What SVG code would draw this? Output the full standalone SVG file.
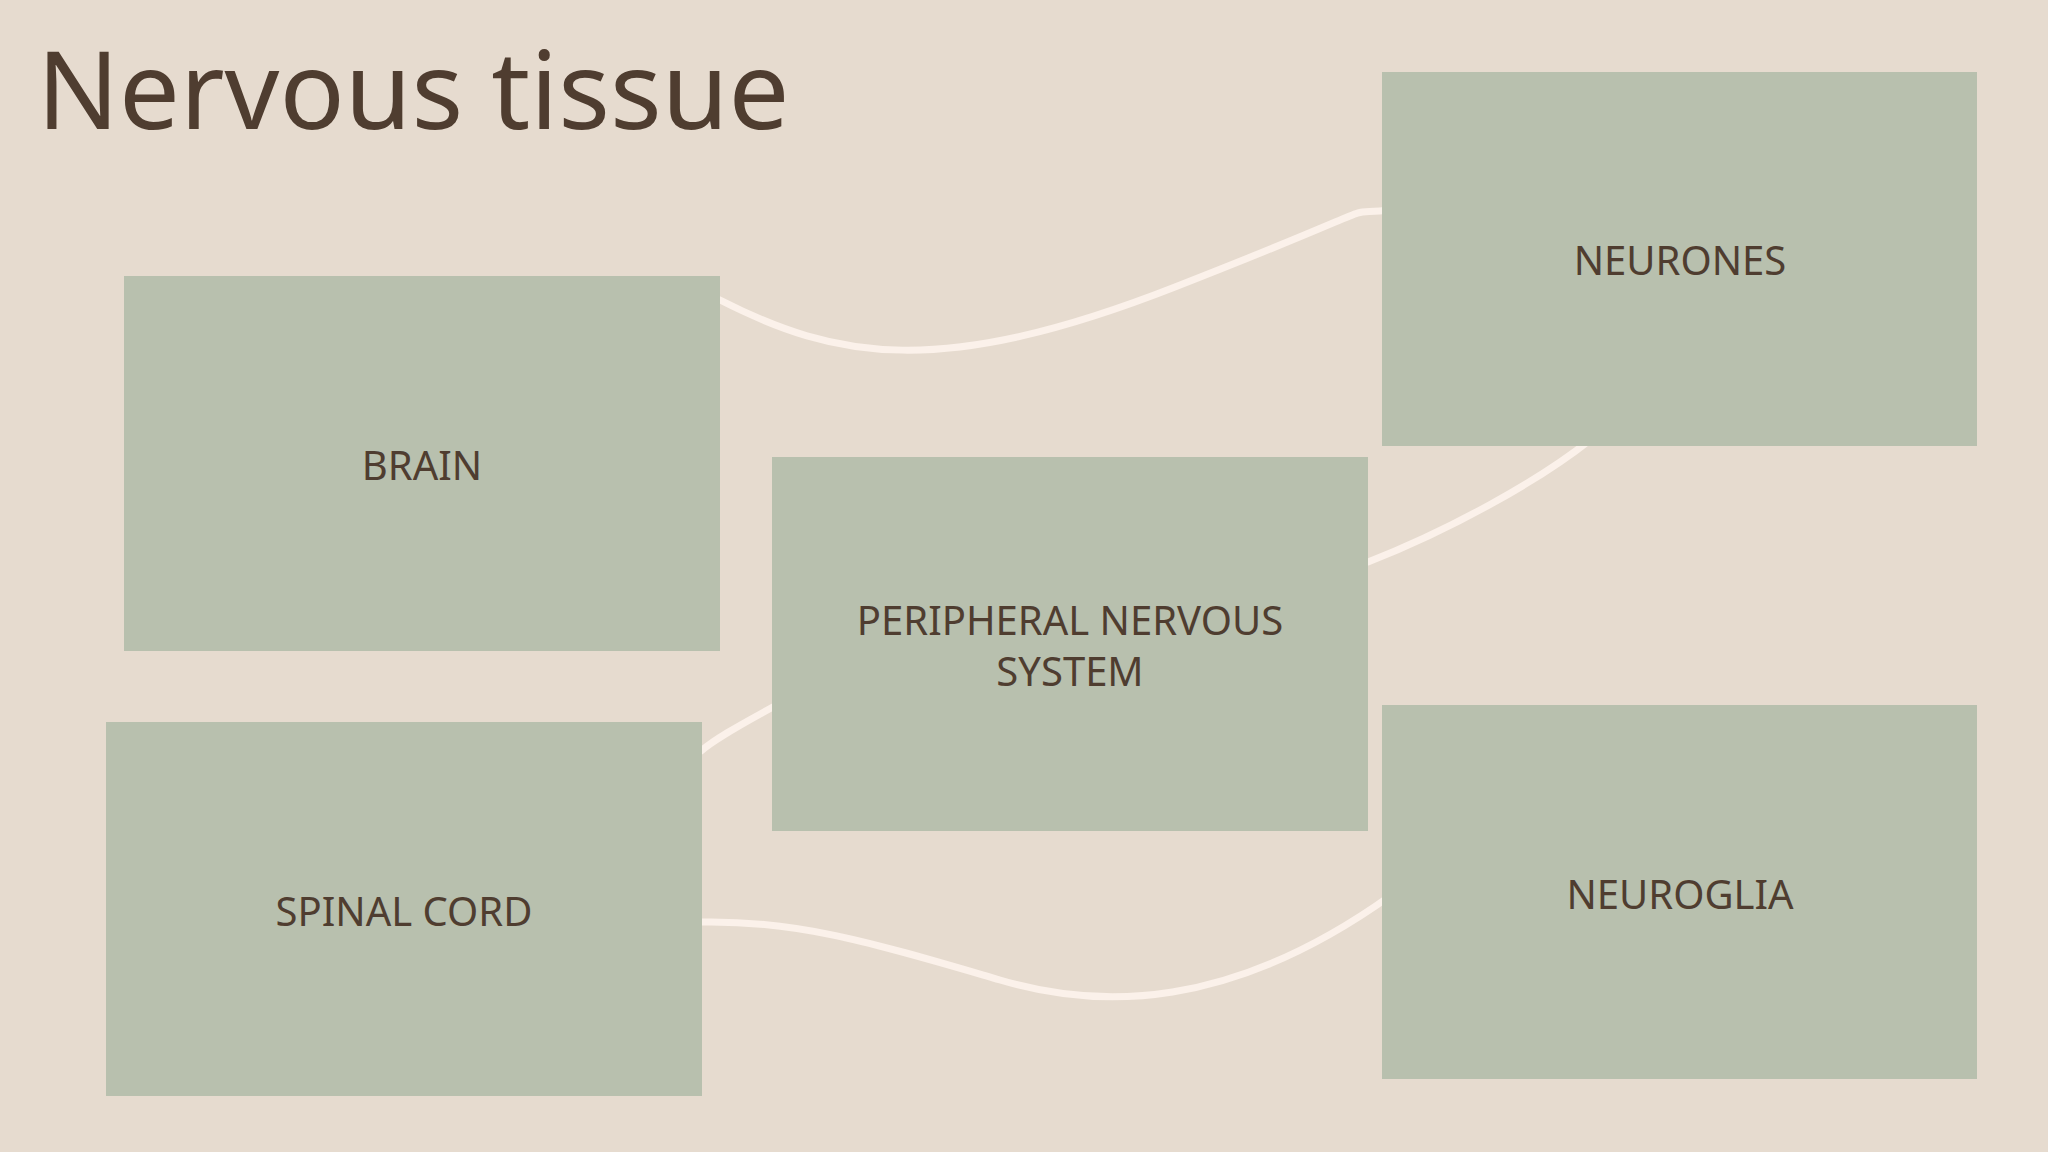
<svg xmlns="http://www.w3.org/2000/svg" width="2048" height="1152" viewBox="0 0 2048 1152">
<style>
.box{fill:#b8c0ae}
.lbl{font-family:"Noto Sans","Open Sans",sans-serif;font-size:40px;fill:#4f3d30;text-anchor:middle}
.c{fill:none;stroke:#fbf1ea;stroke-width:7;stroke-linecap:round}
</style>
<rect width="2048" height="1152" fill="#e6dbcf"/>
<text x="37" y="129" font-family="'Noto Sans','Open Sans',sans-serif" font-size="108" fill="#4f3d30">Nervous tissue</text>
<g id="connectors">
<path class="c" d="M720,300 C836,359 940,379 1175,287 S1332,216 1390,210"/>
<path class="c" d="M1368,562 C1450,530 1540,480 1590,440"/>
<path class="c" d="M701,751 C720,735 750,720 780,703"/>
<path class="c" d="M701,922 C800,920 880,945 1000,980 C1100,1010 1230,1010 1390,896"/>
</g>
<g id="brain"><rect class="box" x="124" y="276" width="596" height="375"/><text class="lbl" x="422" y="480">BRAIN</text></g>
<g id="neurones"><rect class="box" x="1382" y="72" width="595" height="374"/><text class="lbl" x="1680" y="275">NEURONES</text></g>
<g id="pns"><rect class="box" x="772" y="457" width="596" height="374"/><text class="lbl" x="1070" y="635">PERIPHERAL NERVOUS</text><text class="lbl" x="1070" y="686">SYSTEM</text></g>
<g id="spinal"><rect class="box" x="106" y="722" width="596" height="374"/><text class="lbl" x="404" y="926">SPINAL CORD</text></g>
<g id="neuroglia"><rect class="box" x="1382" y="705" width="595" height="374"/><text class="lbl" x="1680" y="909">NEUROGLIA</text></g>
</svg>
